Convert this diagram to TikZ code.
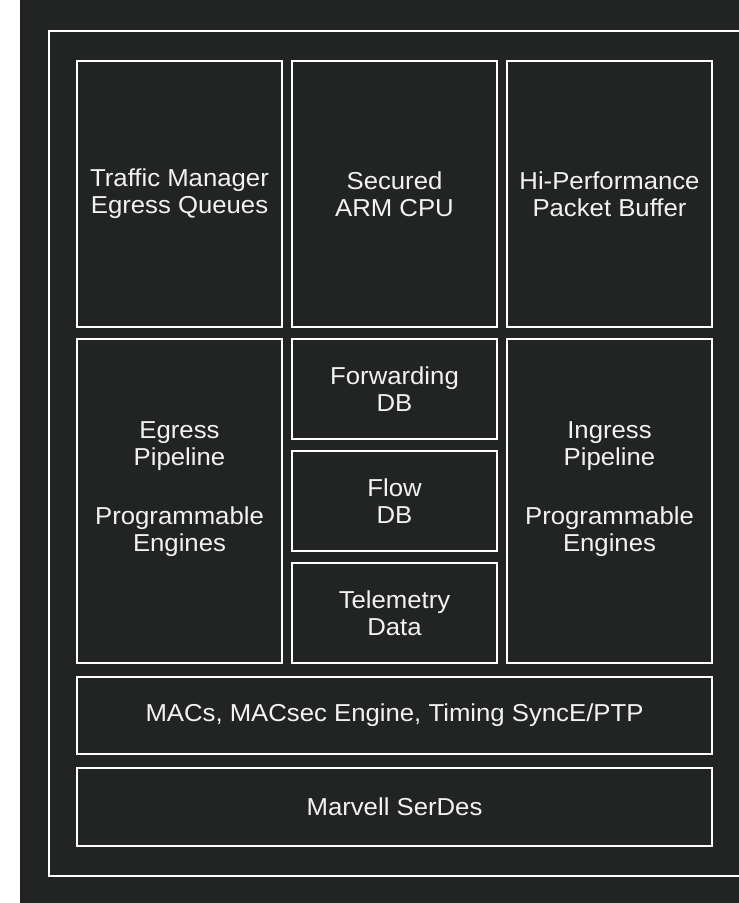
\documentclass[tikz,border=0pt]{standalone}
\usepackage{fontspec}
\setmainfont{Liberation Sans}
\newfontfamily\boxfont[FakeStretch=1.05]{Liberation Sans}
\definecolor{bgdark}{HTML}{222423}
\definecolor{txt}{HTML}{F2F2F2}
\newcommand{\lowpad}{\rule[-29pt]{0pt}{1pt}}
\tikzset{
  blk/.style={draw=white, line width=2pt, text=txt, align=center,
    inner sep=0pt, outer sep=0pt, anchor=north west,
    font=\boxfont\fontsize{24.5}{26.8}\selectfont},
}
\begin{document}
\begin{tikzpicture}[x=1pt,y=-1pt]
\useasboundingbox (0,0) rectangle (739,903);
\clip (0,0) rectangle (739,903);
\fill[white] (0,0) rectangle (739,903);
\fill[bgdark] (20,0) rectangle (739,903);
\draw[white, line width=2pt] (780,31) -- (49,31) -- (49,876) -- (780,876);
% row 1
\node[blk, minimum width=205pt, minimum height=266pt] (tm) at (77,61) {Traffic Manager\\Egress Queues};
\node[blk, minimum width=205pt, minimum height=266pt] (cpu) at (292,61) {Secured\\ARM CPU};
\node[blk, minimum width=205pt, minimum height=266pt] (pb) at (507,61) {Hi-Performance\\Packet Buffer};
% row 2
\node[blk, minimum width=205pt, minimum height=324pt] (eg) at (77,339) {Egress\\Pipeline\\[32pt]Programmable\\Engines\lowpad};
\node[blk, minimum width=205pt, minimum height=100pt] (fwd) at (292,339) {Forwarding\\DB};
\node[blk, minimum width=205pt, minimum height=100pt] (flow) at (292,451) {Flow\\DB};
\node[blk, minimum width=205pt, minimum height=100pt] (tel) at (292,563) {Telemetry\\Data};
\node[blk, minimum width=205pt, minimum height=324pt] (ing) at (507,339) {Ingress\\Pipeline\\[32pt]Programmable\\Engines\lowpad};
% rows 3,4
\node[blk, minimum width=635pt, minimum height=77pt] (mac) at (77,677) {MACs, MACsec Engine, Timing SyncE/PTP};
\node[blk, minimum width=635pt, minimum height=78pt] (serdes) at (77,768) {Marvell SerDes};
\end{tikzpicture}
\end{document}
